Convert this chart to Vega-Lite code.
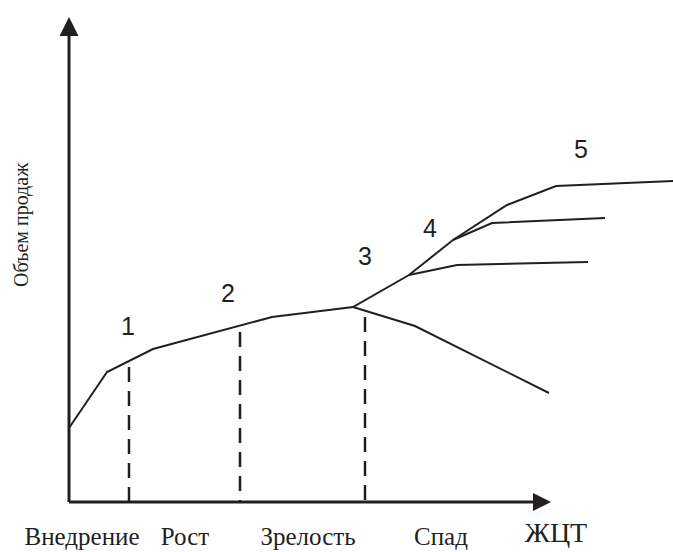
{
  "$schema": "https://vega.github.io/schema/vega-lite/v6.json",
  "width": 673,
  "height": 552,
  "padding": 0,
  "autosize": {"type": "none"},
  "background": "white",
  "config": {"view": {"stroke": null}},
  "datasets": {
    "curves": [
      {"series": "main", "order": 1, "t": 0, "sales": 74},
      {"series": "main", "order": 2, "t": 38, "sales": 130},
      {"series": "main", "order": 3, "t": 84, "sales": 153},
      {"series": "main", "order": 4, "t": 203, "sales": 185},
      {"series": "main", "order": 5, "t": 284, "sales": 195},
      {"series": "main", "order": 6, "t": 340, "sales": 227},
      {"series": "main", "order": 7, "t": 384, "sales": 262},
      {"series": "main", "order": 8, "t": 438, "sales": 297},
      {"series": "main", "order": 9, "t": 487, "sales": 316},
      {"series": "main", "order": 10, "t": 606, "sales": 321},
      {"series": "branchA", "order": 1, "t": 384, "sales": 262},
      {"series": "branchA", "order": 2, "t": 423, "sales": 279},
      {"series": "branchA", "order": 3, "t": 536, "sales": 284},
      {"series": "branchB", "order": 1, "t": 340, "sales": 227},
      {"series": "branchB", "order": 2, "t": 388, "sales": 237},
      {"series": "branchB", "order": 3, "t": 519, "sales": 240},
      {"series": "decline", "order": 1, "t": 284, "sales": 195},
      {"series": "decline", "order": 2, "t": 346, "sales": 176},
      {"series": "decline", "order": 3, "t": 480, "sales": 109}
    ],
    "dividers": [
      {"t": 60, "top": 135, "base": 0},
      {"t": 171, "top": 170, "base": 0},
      {"t": 296, "top": 185, "base": 0}
    ],
    "axes": [
      {"t": 0, "sales": 0, "t2": 0, "sales2": 468},
      {"t": 0, "sales": 0, "t2": 466, "sales2": 0}
    ],
    "arrows": [
      {"dir": "up", "t": 0, "sales": 475.5},
      {"dir": "right", "t": 473, "sales": 0}
    ],
    "stageLabels": [
      {"label": "Внедрение", "t": 13, "sales": -43},
      {"label": "Рост", "t": 116, "sales": -43},
      {"label": "Зрелость", "t": 239, "sales": -43},
      {"label": "Спад", "t": 372, "sales": -43}
    ],
    "numbers": [
      {"label": "1", "t": 59, "sales": 175},
      {"label": "2", "t": 159, "sales": 208},
      {"label": "3", "t": 296, "sales": 245},
      {"label": "4", "t": 361, "sales": 273},
      {"label": "5", "t": 512, "sales": 352}
    ],
    "xTitle": [{"label": "ЖЦТ", "t": 487, "sales": -40}],
    "yTitle": [{"label": "Объем продаж", "t": -47, "sales": 277}]
  },
  "layer": [
    {
      "data": {"name": "axes"},
      "mark": {"type": "rule", "stroke": "#231f20", "strokeWidth": 3},
      "encoding": {
        "x": {"field": "t", "type": "quantitative", "scale": {"domain": [-69, 604], "nice": false, "zero": false}, "axis": null},
        "y": {"field": "sales", "type": "quantitative", "scale": {"domain": [-50, 502], "nice": false, "zero": false}, "axis": null},
        "x2": {"field": "t2"},
        "y2": {"field": "sales2"}
      }
    },
    {
      "data": {"name": "arrows"},
      "transform": [{"filter": "datum.dir === 'up'"}],
      "mark": {"type": "point", "shape": "M-1,1L0,-1L1,1Z", "size": 361, "filled": true, "fill": "#231f20", "strokeWidth": 0, "opacity": 1},
      "encoding": {
        "x": {"field": "t", "type": "quantitative"},
        "y": {"field": "sales", "type": "quantitative"}
      }
    },
    {
      "data": {"name": "arrows"},
      "transform": [{"filter": "datum.dir === 'right'"}],
      "mark": {"type": "point", "shape": "M-1,-1L1,0L-1,1Z", "size": 324, "filled": true, "fill": "#231f20", "strokeWidth": 0, "opacity": 1},
      "encoding": {
        "x": {"field": "t", "type": "quantitative"},
        "y": {"field": "sales", "type": "quantitative"}
      }
    },
    {
      "data": {"name": "dividers"},
      "mark": {"type": "rule", "stroke": "#231f20", "strokeWidth": 2.5, "strokeDash": [15, 9]},
      "encoding": {
        "x": {"field": "t", "type": "quantitative"},
        "y": {"field": "top", "type": "quantitative"},
        "y2": {"field": "base"}
      }
    },
    {
      "data": {"name": "curves"},
      "mark": {"type": "line", "stroke": "#231f20", "strokeWidth": 2},
      "encoding": {
        "x": {"field": "t", "type": "quantitative"},
        "y": {"field": "sales", "type": "quantitative"},
        "detail": {"field": "series"},
        "order": {"field": "order", "type": "quantitative"}
      }
    },
    {
      "data": {"name": "stageLabels"},
      "mark": {"type": "text", "font": "Liberation Serif", "fontSize": 25, "fill": "#231f20", "align": "center", "baseline": "alphabetic"},
      "encoding": {
        "x": {"field": "t", "type": "quantitative"},
        "y": {"field": "sales", "type": "quantitative"},
        "text": {"field": "label"}
      }
    },
    {
      "data": {"name": "xTitle"},
      "mark": {"type": "text", "font": "Liberation Serif", "fontSize": 28, "fill": "#231f20", "align": "center", "baseline": "alphabetic"},
      "encoding": {
        "x": {"field": "t", "type": "quantitative"},
        "y": {"field": "sales", "type": "quantitative"},
        "text": {"field": "label"}
      }
    },
    {
      "data": {"name": "yTitle"},
      "mark": {"type": "text", "font": "Liberation Serif", "fontSize": 20, "fill": "#231f20", "align": "center", "baseline": "middle", "angle": 270},
      "encoding": {
        "x": {"field": "t", "type": "quantitative"},
        "y": {"field": "sales", "type": "quantitative"},
        "text": {"field": "label"}
      }
    },
    {
      "data": {"name": "numbers"},
      "mark": {"type": "text", "font": "Liberation Sans", "fontSize": 25, "fill": "#231f20", "align": "center", "baseline": "middle"},
      "encoding": {
        "x": {"field": "t", "type": "quantitative"},
        "y": {"field": "sales", "type": "quantitative"},
        "text": {"field": "label"}
      }
    }
  ]
}
